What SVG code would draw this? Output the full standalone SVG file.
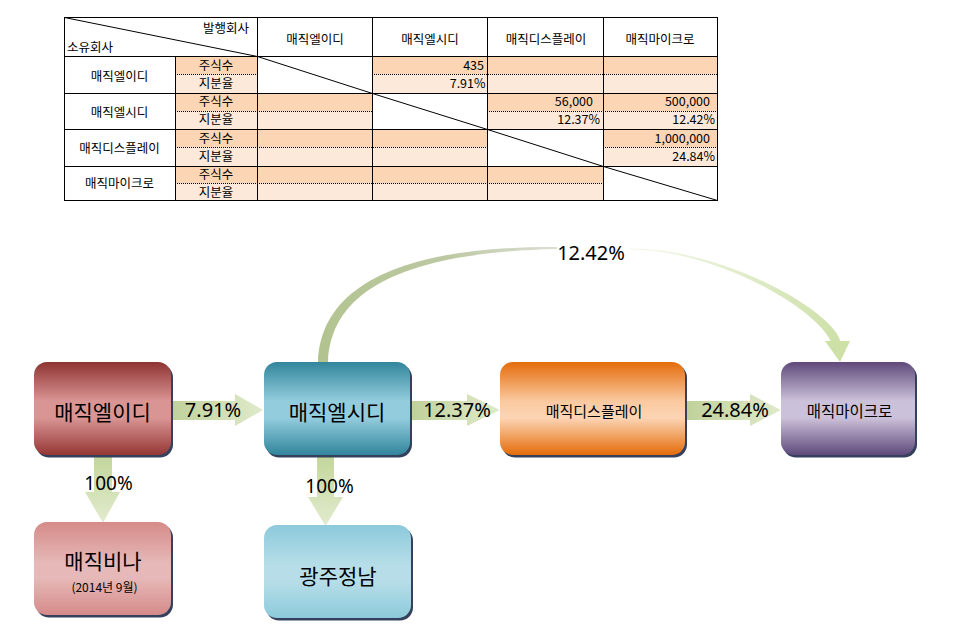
<svg xmlns="http://www.w3.org/2000/svg" width="974" height="633" viewBox="0 0 974 633">
<style>
.t{font-family:"Noto Sans CJK KR","Noto Sans",sans-serif;font-size:12.5px;fill:#000}
.c{text-anchor:middle}
.r{text-anchor:end}
.g{stroke:#000;stroke-width:1;fill:none;shape-rendering:crispEdges}
.d{stroke:#000;stroke-width:1;stroke-dasharray:1 1;fill:none;shape-rendering:crispEdges}
.dg{stroke:#000;stroke-width:1;fill:none}
.a{fill:#FCD5B4}
.b{fill:#FDE9D9}
.w{fill:#fff}
.bx{font-family:"Noto Sans CJK KR",sans-serif;fill:#000;text-anchor:middle}
.pc{font-family:"Noto Sans","Noto Sans CJK KR",sans-serif;font-size:20px;fill:#000;text-anchor:middle}
.sh{fill:#34405C}
</style>
<defs>
<linearGradient id="gRed" x1="0" y1="0" x2="0" y2="1"><stop offset="0" stop-color="#8E3432"/><stop offset="0.42" stop-color="#D99594"/><stop offset="0.6" stop-color="#D99594"/><stop offset="1" stop-color="#953735"/></linearGradient>
<linearGradient id="gPink" x1="0" y1="0" x2="0" y2="1"><stop offset="0" stop-color="#D58B89"/><stop offset="0.45" stop-color="#E6B9B8"/><stop offset="0.6" stop-color="#E6B9B8"/><stop offset="1" stop-color="#D58B89"/></linearGradient>
<linearGradient id="gTeal" x1="0" y1="0" x2="0" y2="1"><stop offset="0" stop-color="#31859C"/><stop offset="0.42" stop-color="#93CDDD"/><stop offset="0.6" stop-color="#93CDDD"/><stop offset="1" stop-color="#31859C"/></linearGradient>
<linearGradient id="gLBlue" x1="0" y1="0" x2="0" y2="1"><stop offset="0" stop-color="#8DCADB"/><stop offset="0.45" stop-color="#B7DEE8"/><stop offset="0.6" stop-color="#B7DEE8"/><stop offset="1" stop-color="#8DCADB"/></linearGradient>
<linearGradient id="gOrange" x1="0" y1="0" x2="0" y2="1"><stop offset="0" stop-color="#E46C0A"/><stop offset="0.42" stop-color="#FAC9A0"/><stop offset="0.6" stop-color="#FCD5B5"/><stop offset="1" stop-color="#E46C0A"/></linearGradient>
<linearGradient id="gPurple" x1="0" y1="0" x2="0" y2="1"><stop offset="0" stop-color="#5F497A"/><stop offset="0.42" stop-color="#CCC1DA"/><stop offset="0.6" stop-color="#CCC1DA"/><stop offset="1" stop-color="#5F497A"/></linearGradient>
<linearGradient id="gH" x1="0" y1="0" x2="1" y2="0"><stop offset="0" stop-color="#BFD19A"/><stop offset="1" stop-color="#E0EACB"/></linearGradient>
<linearGradient id="gV" x1="0" y1="0" x2="0" y2="1"><stop offset="0" stop-color="#C3D69B"/><stop offset="1" stop-color="#E2EBCF"/></linearGradient>
<linearGradient id="gCL" gradientUnits="userSpaceOnUse" x1="323" y1="362" x2="557" y2="248"><stop offset="0" stop-color="#B2C38F"/><stop offset="0.6" stop-color="#BCC8A2"/><stop offset="1" stop-color="#DCDFD4"/></linearGradient>
<linearGradient id="gCR" gradientUnits="userSpaceOnUse" x1="630" y1="249" x2="840" y2="340"><stop offset="0" stop-color="#F4F8EC"/><stop offset="1" stop-color="#CDE0A8"/></linearGradient>
</defs>

<!-- Table -->
<g id="table">
  <rect class="a" x="175" y="56" width="542" height="18"/><rect class="b" x="175" y="74" width="542" height="19"/>
  <rect class="a" x="175" y="93" width="542" height="18"/><rect class="b" x="175" y="111" width="542" height="18"/>
  <rect class="a" x="175" y="129" width="542" height="18"/><rect class="b" x="175" y="147" width="542" height="19"/>
  <rect class="a" x="175" y="166" width="542" height="17"/><rect class="b" x="175" y="183" width="542" height="17"/>
  <rect class="w" x="257" y="56" width="115" height="37"/>
  <rect class="w" x="372" y="93" width="115" height="36"/>
  <rect class="w" x="487" y="129" width="116" height="37"/>
  <rect class="w" x="603" y="166" width="114" height="34"/>
  <path class="d" d="M175 74.5H257M372 74.5H717M175 111.5H372M487 111.5H717M175 147.5H487M603 147.5H717M175 183.5H603"/>
  <rect class="g" x="64.5" y="17.5" width="653" height="183"/>
  <path class="g" d="M64 56.5H717M64 93.5H717M64 129.5H717M64 166.5H717M175.5 56V200M257.5 17V200M372.5 17V200M487.5 17V200M603.5 17V200"/>
  <path class="dg" d="M64.5 17.5L257.5 56.5M257.5 56.5L372.5 93.5M372.5 93.5L487.5 129.5M487.5 129.5L603.5 166.5M603.5 166.5L717.5 200.5"/>
  <text class="t r" x="249" y="32.5">발행회사</text>
  <text class="t" x="67" y="52">소유회사</text>
  <text class="t c" x="315" y="43.5">매직엘이디</text>
  <text class="t c" x="430" y="43.5">매직엘시디</text>
  <text class="t c" x="546" y="43.5">매직디스플레이</text>
  <text class="t c" x="660" y="43.5">매직마이크로</text>
  <text class="t c" x="119.5" y="80.5">매직엘이디</text>
  <text class="t c" x="119.5" y="116.5">매직엘시디</text>
  <text class="t c" x="119.5" y="152.5">매직디스플레이</text>
  <text class="t c" x="119.5" y="188">매직마이크로</text>
  <text class="t c" x="216" y="69.5">주식수</text><text class="t c" x="216" y="88">지분율</text>
  <text class="t c" x="216" y="106">주식수</text><text class="t c" x="216" y="124">지분율</text>
  <text class="t c" x="216" y="142.5">주식수</text><text class="t c" x="216" y="160.5">지분율</text>
  <text class="t c" x="216" y="179">주식수</text><text class="t c" x="216" y="196.5">지분율</text>
  <text class="t r" x="484" y="69.5">435</text>
  <text class="t r" x="485.5" y="88">7.91%</text>
  <text class="t r" x="593" y="106">56,000</text>
  <text class="t r" x="600" y="124">12.37%</text>
  <text class="t r" x="710" y="106">500,000</text>
  <text class="t r" x="715" y="124">12.42%</text>
  <text class="t r" x="710" y="142.5">1,000,000</text>
  <text class="t r" x="715" y="160.5">24.84%</text>
</g>

<!-- Connectors -->
<g id="connectors">
  <path fill="url(#gCL)" d="M318 362C321 278 418 246 557 247L557 249C422 252 331 282 328 362Z"/>
  <path fill="url(#gCR)" d="M630 248.5C720 248 829 308 840.3 340.5L831.7 343.5C821 312 720 250 630 249.5Z"/>
  <polygon fill="#CDE0A6" points="825,341 850,341 840,362"/>
  <polygon fill="url(#gH)" points="171,401 235,401 235,394 263,410 235,426 235,420 171,420"/>
  <polygon fill="url(#gH)" points="410,401 467,401 467,394 500,410 467,426 467,420 410,420"/>
  <polygon fill="url(#gH)" points="685,401 750,401 750,394 781,410 750,426 750,420 685,420"/>
  <polygon fill="url(#gV)" points="94,456 112,456 112,492 120,492 103,523 85,492 94,492"/>
  <polygon fill="url(#gV)" points="317,456 334,456 334,497 343,497 325.5,526 308,497 317,497"/>
  <text class="pc" x="213" y="417">7.91%</text>
  <text class="pc" x="457" y="417">12.37%</text>
  <text class="pc" x="735" y="417">24.84%</text>
  <text class="pc" x="591" y="260">12.42%</text>
  <text class="pc" x="108.5" y="490" style="font-size:19px">100%</text>
  <text class="pc" x="329.5" y="492.5" style="font-size:19px">100%</text>
</g>

<!-- Nodes -->
<g id="node-led">
  <rect class="sh" x="36" y="364.5" width="137" height="93" rx="13"/>
  <rect x="34" y="362" width="137" height="93" rx="13" fill="url(#gRed)"/>
  <text class="bx" x="102.5" y="420" font-size="21">매직엘이디</text>
</g>
<g id="node-lcd">
  <rect class="sh" x="266" y="364.5" width="146" height="93" rx="13"/>
  <rect x="264" y="362" width="146" height="93" rx="13" fill="url(#gTeal)"/>
  <text class="bx" x="337" y="420" font-size="21">매직엘시디</text>
</g>
<g id="node-display">
  <rect class="sh" x="502" y="364.5" width="185" height="93" rx="13"/>
  <rect x="500" y="362" width="185" height="93" rx="13" fill="url(#gOrange)"/>
  <text class="bx" x="594" y="416.5" font-size="15">매직디스플레이</text>
</g>
<g id="node-micro">
  <rect class="sh" x="783" y="364.5" width="134" height="93" rx="13"/>
  <rect x="781" y="362" width="134" height="93" rx="13" fill="url(#gPurple)"/>
  <text class="bx" x="849.5" y="416.5" font-size="15.5">매직마이크로</text>
</g>
<g id="node-vina">
  <rect class="sh" x="36" y="524.5" width="137" height="93" rx="13"/>
  <rect x="34" y="522" width="137" height="93" rx="13" fill="url(#gPink)"/>
  <text class="bx" x="103" y="568.5" font-size="21">매직비나</text>
  <text class="bx" x="104.5" y="592" font-size="12">(2014년 9월)</text>
</g>
<g id="node-gwangju">
  <rect class="sh" x="266" y="527.5" width="147" height="93" rx="13"/>
  <rect x="264" y="525" width="147" height="93" rx="13" fill="url(#gLBlue)"/>
  <text class="bx" x="338" y="584" font-size="21">광주정남</text>
</g>
</svg>
